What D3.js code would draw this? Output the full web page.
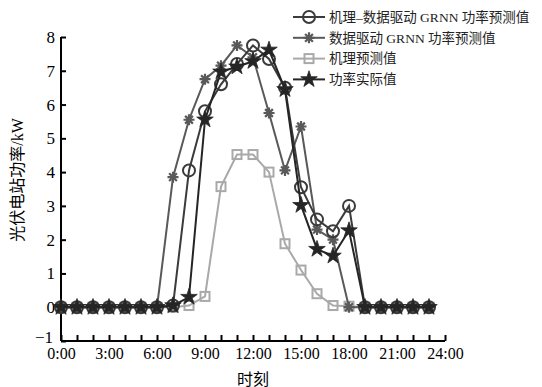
<!DOCTYPE html>
<html><head><meta charset="utf-8">
<script src="https://cdn.jsdelivr.net/npm/d3@7"></script>
<style>
body{margin:0;background:#fff;}
svg{display:block;font-family:"Liberation Serif","Noto Sans CJK SC",serif;}
</style></head>
<body><svg id="c" width="542" height="387"></svg>
<script>
const hours = d3.range(0, 24);
const xTickValues = [0,3,6,9,12,15,18,21,24];
const xTickLabels = ["0:00","3:00","6:00","9:00","12:00","15:00","18:00","21:00","24:00"];
const yTickValues = [-1,0,1,2,3,4,5,6,7,8];
const seriesNames = ["机理–数据驱动 GRNN 功率预测值","数据驱动 GRNN 功率预测值","机理预测值","功率实际值"];
const hybridValues = [0,0,0,0,0,0,0,0.05,4.05,5.8,6.6,7.2,7.75,7.35,6.5,3.55,2.6,2.25,3.0,0,0,0,0,0];
const grnnValues   = [0,0,0,0,0,0,0,3.85,5.55,6.75,7.15,7.75,7.4,5.75,4.05,5.35,2.3,2.0,0,0,0,0,0,0];
const mechValues   = [0,0,0,0,0,0,0,0,0.05,0.32,3.57,4.52,4.52,4.0,1.88,1.1,0.4,0.05,0.03,0,0,0,0,0];
const actualValues = [0,0,0,0,0,0,0,0.05,0.3,5.55,6.97,7.12,7.28,7.62,6.45,3.02,1.72,1.52,2.27,0,0,0,0,0];

const svg = d3.select("#c");
const x = d3.scaleLinear().domain([0,24]).range([61,445]);
const y = d3.scaleLinear().domain([-1,8]).range([341,37]);

// axes
const xAxis = d3.axisBottom(x).tickValues(d3.range(0,25)).tickSize(-6)
  .tickFormat(d => { const i = xTickValues.indexOf(d); return i>=0 ? xTickLabels[i] : ""; });
const gx = svg.append("g").attr("transform",`translate(0,${y(-1)})`).call(xAxis);
gx.select(".domain").attr("stroke","#000").attr("stroke-width",2).attr("d",`M${x(0)},0H${x(24)}`);
gx.selectAll(".tick line").attr("stroke","#000").attr("stroke-width",2);
gx.selectAll(".tick text").attr("font-size",16).attr("fill","#000").attr("dy","0.71em").attr("y",7)
  .attr("font-family",'"Liberation Serif",serif');

const yAxis = d3.axisLeft(y).tickValues(yTickValues).tickSize(-5)
  .tickFormat(d => d < 0 ? "−" + Math.abs(d) : d);
const gy = svg.append("g").attr("transform",`translate(${x(0)},0)`).call(yAxis);
gy.select(".domain").attr("stroke","#000").attr("stroke-width",2).attr("d",`M0,${y(8)}V${y(-1)}`);
gy.selectAll(".tick line").attr("stroke","#000").attr("stroke-width",2);
gy.selectAll(".tick text").attr("font-size",17).attr("fill","#000").attr("x",-6)
  .attr("font-family",'"Liberation Serif",serif')
  .filter(d => d < 0).attr("dy","0.1em").attr("x",-8);

svg.append("text").attr("x",253).attr("y",385).attr("text-anchor","middle")
  .attr("font-size",16).text("时刻");
svg.append("text").attr("transform","translate(23,180) rotate(-90)").attr("text-anchor","middle")
  .attr("font-size",16).text("光伏电站功率/kW");

// markers
const asteriskPath = (r) => {
  let p = "";
  for (let k=0;k<4;k++){ const a = k*Math.PI/4; const dx=r*Math.cos(a), dy=r*Math.sin(a);
    p += `M${-dx},${-dy}L${dx},${dy}`; }
  return p;
};
const series = [
  {name:seriesNames[2], vals:mechValues, color:"#a9a9a9", marker:"square"},
  {name:seriesNames[1], vals:grnnValues, color:"#595959", marker:"asterisk"},
  {name:seriesNames[0], vals:hybridValues, color:"#3b3b3b", marker:"circle"},
  {name:seriesNames[3], vals:actualValues, color:"#252525", marker:"star"}
];
function drawMarker(g, type, color){
  if(type==="square") g.append("rect").attr("x",-4.5).attr("y",-4.5).attr("width",9).attr("height",9)
      .attr("fill","none").attr("stroke",color).attr("stroke-width",2);
  else if(type==="circle") g.append("circle").attr("r",6).attr("fill","none").attr("stroke",color).attr("stroke-width",2);
  else if(type==="asterisk") g.append("path").attr("d",asteriskPath(5.5)).attr("stroke",color).attr("stroke-width",2.2).attr("fill","none");
  else if(type==="star") g.append("path").attr("d",d3.symbol(d3.symbolStar,85)()).attr("fill",color).attr("stroke",color).attr("stroke-width",0.8);
}
const line = d3.line().x((d,i)=>x(hours[i])).y(d=>y(d));
series.forEach(s=>{
  svg.append("path").attr("d",line(s.vals)).attr("fill","none").attr("stroke",s.color).attr("stroke-width",2);
  s.vals.forEach((v,i)=>{
    const g = svg.append("g").attr("transform",`translate(${x(hours[i])},${y(v)})`);
    drawMarker(g, s.marker, s.color);
  });
});

// legend
const legendOrder = [series[2], series[1], series[0], series[3]];
legendOrder.forEach((s,i)=>{
  const yy = 17 + i*20.8;
  const g = svg.append("g").attr("transform",`translate(293,${yy})`);
  g.append("line").attr("x1",0).attr("x2",32).attr("stroke",s.color).attr("stroke-width",2);
  const m = g.append("g").attr("transform","translate(16,0)");
  drawMarker(m, s.marker, s.color);
  g.append("text").attr("x",36).attr("y",0).attr("dy","0.35em").attr("font-size",13.5).attr("fill","#222").text(s.name);
});
</script></body></html>
